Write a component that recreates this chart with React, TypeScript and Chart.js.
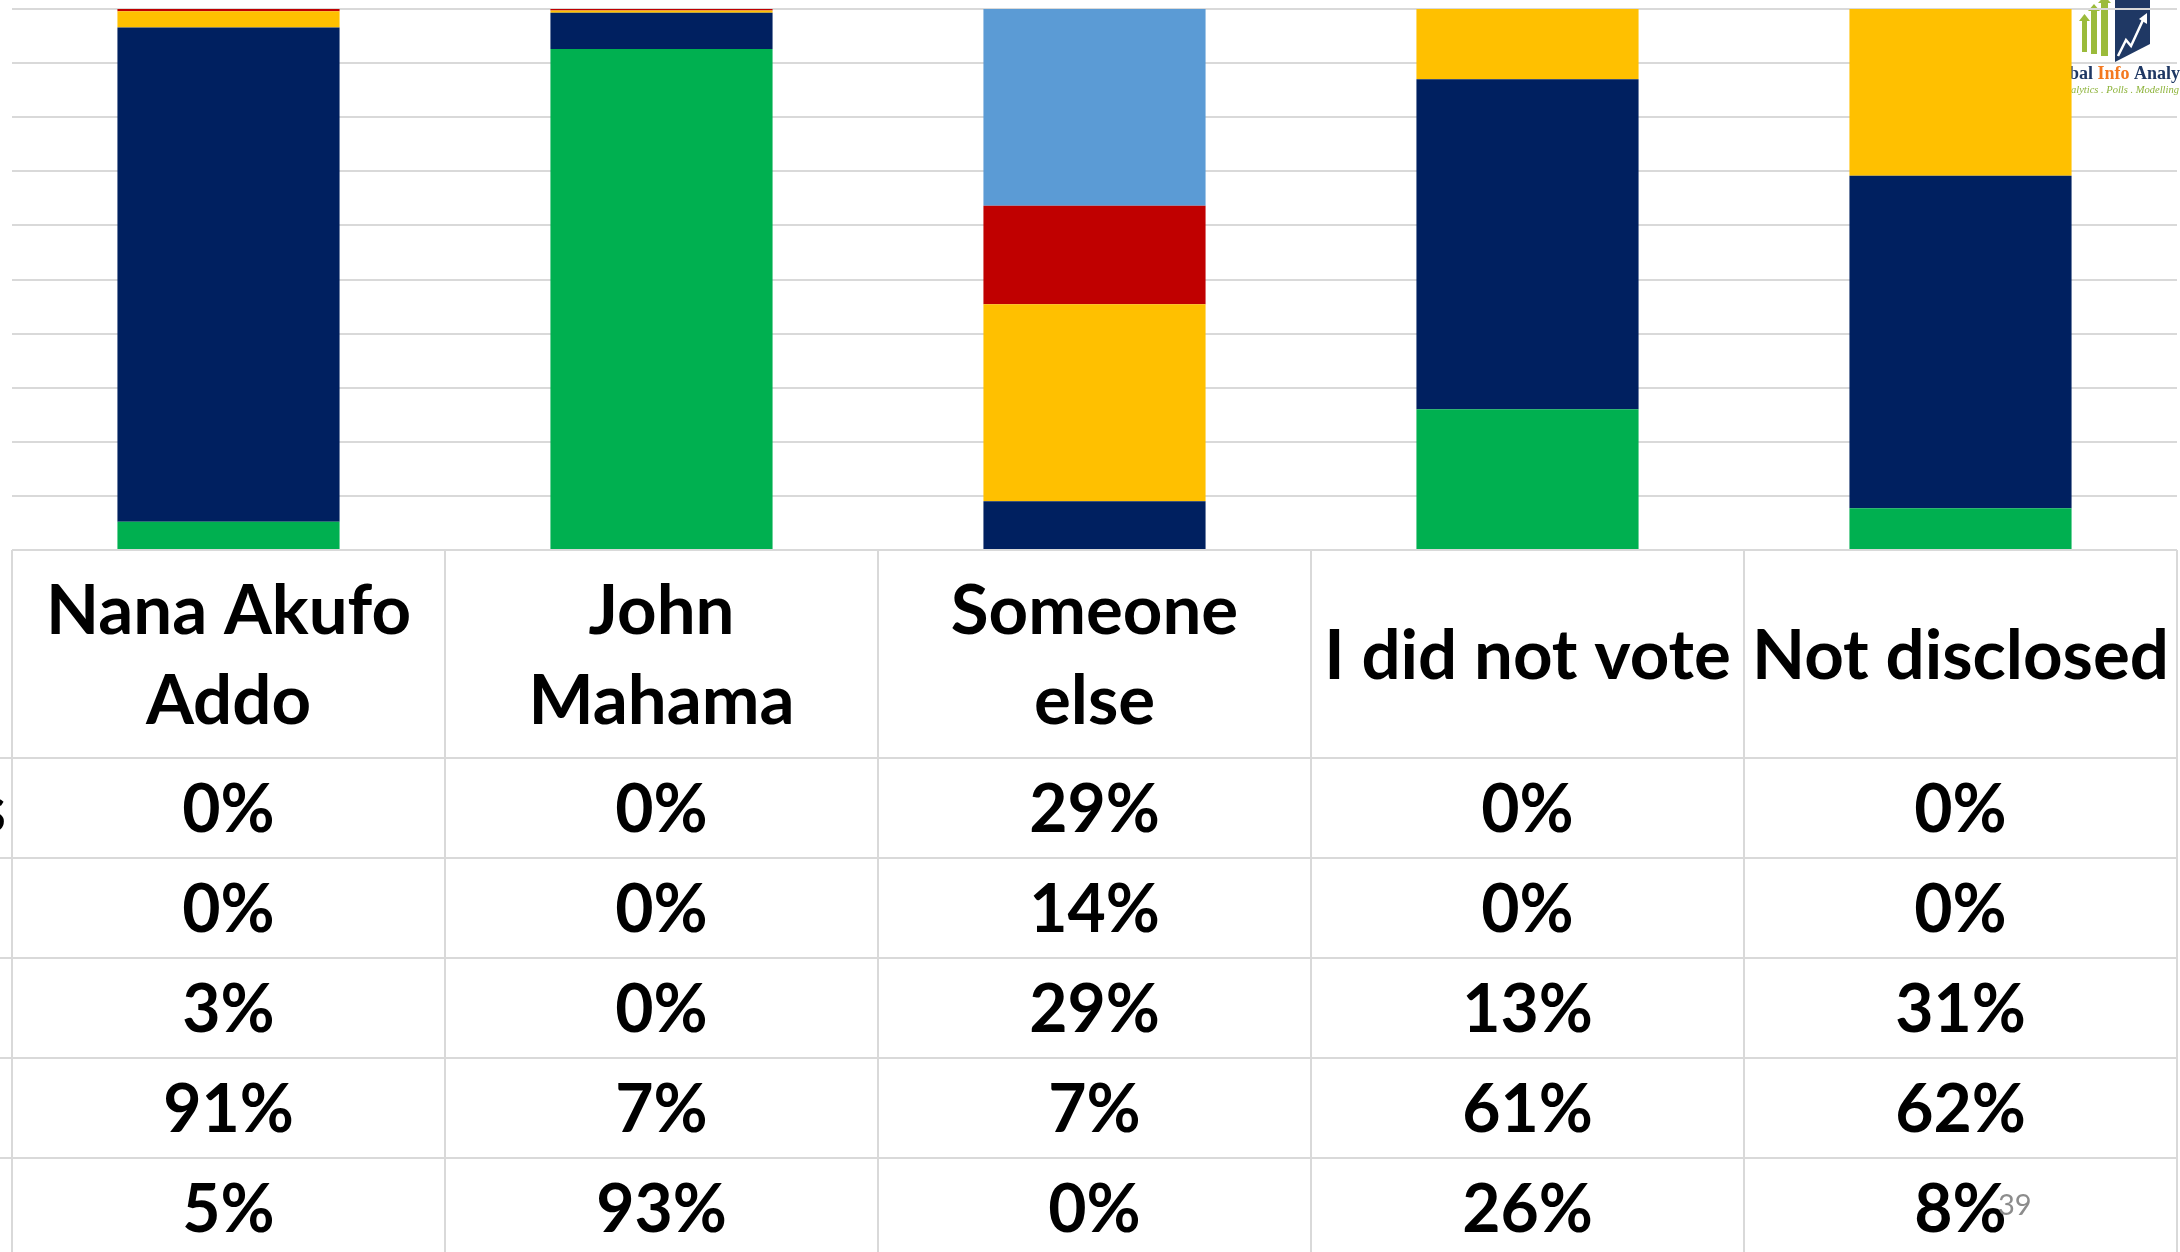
import React, { useEffect, useRef } from "react";
import { Chart, registerables } from "chart.js";

Chart.register(...registerables);

// Categories (column headers of the data table)
const categories: string[][] = [
  ["Nana Akufo", "Addo"],
  ["John", "Mahama"],
  ["Someone", "else"],
  ["I did not vote"],
  ["Not disclosed"],
];

// Series (top row of data table first)
const seriesNames = ["Other candidates", "CPP", "Undecided", "NPP", "NDC"];
const otherValues = [0, 0, 28.6, 0, 0];
const redValues = [0.4, 0.3, 14.3, 0, 0];
const yellowValues = [3.0, 0.4, 28.6, 13, 30.8];
const navyValues = [91.3, 6.7, 7.1, 61, 61.5];
const greenValues = [5.2, 92.6, 0, 26, 7.7];
const seriesColors = ["#5B9BD5", "#C00000", "#FFC000", "#002060", "#00B050"];

const yTicks = [0, 10, 20, 30, 40, 50, 60, 70, 80, 90, 100];
const pageNumber = "39";

const seriesValues = [otherValues, redValues, yellowValues, navyValues, greenValues];
const totals = categories.map((_, i) =>
  seriesValues.reduce((s, arr) => s + arr[i], 0)
);

const FONT = "Lato, 'Open Sans', sans-serif";
const GRID = "#D9D9D9";

function drawLogo(ctx: CanvasRenderingContext2D) {
  ctx.save();
  // green arrows
  ctx.fillStyle = "#9BBB3B";
  const arrows = [
    { x: 2082, w: 5, top: 14, bottom: 52 },
    { x: 2091, w: 6, top: 4, bottom: 54 },
    { x: 2101, w: 7, top: -4, bottom: 56 },
  ];
  arrows.forEach((a) => {
    ctx.fillRect(a.x, a.top + 6, a.w, a.bottom - a.top - 6);
    ctx.beginPath();
    ctx.moveTo(a.x - 3, a.top + 7);
    ctx.lineTo(a.x + a.w / 2, a.top);
    ctx.lineTo(a.x + a.w + 3, a.top + 7);
    ctx.closePath();
    ctx.fill();
  });
  // navy book shape
  ctx.fillStyle = "#1F3864";
  ctx.beginPath();
  ctx.moveTo(2115, 0);
  ctx.lineTo(2150, 0);
  ctx.lineTo(2150, 44);
  ctx.lineTo(2115, 62);
  ctx.closePath();
  ctx.fill();
  // white zigzag arrow
  ctx.strokeStyle = "#FFFFFF";
  ctx.lineWidth = 2.5;
  ctx.beginPath();
  ctx.moveTo(2118, 56);
  ctx.lineTo(2126, 40);
  ctx.lineTo(2131, 46);
  ctx.lineTo(2143, 20);
  ctx.stroke();
  ctx.fillStyle = "#FFFFFF";
  ctx.beginPath();
  ctx.moveTo(2139, 19);
  ctx.lineTo(2147, 13);
  ctx.lineTo(2147, 24);
  ctx.closePath();
  ctx.fill();
  // text
  ctx.textBaseline = "alphabetic";
  ctx.textAlign = "left";
  ctx.font = "bold 18px 'Liberation Serif', serif";
  let x = 2069 - ctx.measureText("Glo").width;
  const parts: [string, string][] = [
    ["Global ", "#1F3864"],
    ["Info ", "#F47920"],
    ["Analytics", "#1F3864"],
  ];
  parts.forEach(([t, c]) => {
    ctx.fillStyle = c;
    ctx.fillText(t, x, 79);
    x += ctx.measureText(t).width;
  });
  ctx.font = "italic 10.5px 'Liberation Serif', serif";
  ctx.fillStyle = "#8DB33A";
  ctx.fillText("Analytics . Polls . Modelling", 2071 - ctx.measureText("An").width, 93);
  ctx.restore();
}

const tablePlugin = {
  id: "dataTable",
  beforeDraw(chart: any) {
    drawLogo(chart.ctx);
  },
  afterDraw(chart: any) {
    const { ctx, chartArea } = chart;
    const n = categories.length;
    const left = chartArea.left;
    const right = chartArea.right;
    const colW = (right - left) / n;
    const top = chartArea.bottom;
    const headerH = 208;
    const rowH = 100;
    const rows = seriesNames.length;
    const bottom = top + headerH + rows * rowH;
    const hfs = 69;
    const fs = 66;

    ctx.save();
    ctx.strokeStyle = GRID;
    ctx.lineWidth = 2;
    ctx.beginPath();
    ctx.moveTo(left, top);
    ctx.lineTo(right, top);
    for (let i = 0; i <= n; i++) {
      const xx = left + i * colW;
      ctx.moveTo(xx, top);
      ctx.lineTo(xx, bottom);
    }
    for (let r = 0; r <= rows; r++) {
      const yy = top + headerH + r * rowH;
      ctx.moveTo(-800, yy);
      ctx.lineTo(right, yy);
    }
    ctx.stroke();

    ctx.fillStyle = "#000000";
    ctx.textBaseline = "alphabetic";
    ctx.textAlign = "center";
    // header
    ctx.font = `bold ${hfs}px ${FONT}`;
    categories.forEach((lines, i) => {
      const cx = left + (i + 0.5) * colW;
      const cy = top + headerH / 2;
      lines.forEach((ln, j) => {
        const y = cy + (j - (lines.length - 1) / 2) * 90 + hfs * 0.36;
        ctx.fillText(ln, cx, y);
      });
    });
    // values
    ctx.font = `bold ${fs}px ${FONT}`;
    seriesValues.forEach((arr, r) => {
      const cy = top + headerH + r * rowH + rowH / 2;
      arr.forEach((v, i) => {
        const cx = left + (i + 0.5) * colW;
        ctx.fillText(Math.round(v) + "%", cx, cy + fs * 0.36);
      });
    });
    // row headers (mostly off-canvas to the left)
    ctx.textAlign = "left";
    const maxW = Math.max(...seriesNames.map((s) => ctx.measureText(s).width));
    const textX = 6 - maxW;
    seriesNames.forEach((s, r) => {
      const cy = top + headerH + r * rowH + rowH / 2;
      ctx.fillStyle = seriesColors[r];
      ctx.fillRect(textX - 40, cy - 12, 24, 24);
      ctx.fillStyle = "#000000";
      ctx.fillText(s, textX, cy + fs * 0.36);
    });
    // page number
    ctx.fillStyle = "#8C8C8C";
    ctx.font = `29px ${FONT}`;
    ctx.fillText(pageNumber, 1998, 1215);
    ctx.restore();
  },
};

export default function App() {
  const canvasRef = useRef<HTMLCanvasElement | null>(null);

  useEffect(() => {
    document.body.style.margin = "0";
    const canvas = canvasRef.current;
    if (!canvas) return;
    // stacking bottom -> top: reverse order of table rows
    const order = [4, 3, 2, 1, 0];
    const datasets = order.map((k) => ({
      label: seriesNames[k],
      data: seriesValues[k].map((v, i) => (v / totals[i]) * 100),
      backgroundColor: seriesColors[k],
      borderWidth: 0,
      barPercentage: 0.513,
      categoryPercentage: 1,
    }));
    const chart = new Chart(canvas, {
      type: "bar",
      data: {
        labels: categories.map((c) => c.join(" ")),
        datasets,
      },
      options: {
        responsive: false,
        animation: false,
        devicePixelRatio: 1,
        layout: { padding: { left: 12, right: 3, top: 9, bottom: 702 } },
        plugins: {
          legend: { display: false },
          tooltip: { enabled: false },
          title: { display: false },
        },
        scales: {
          x: {
            stacked: true,
            display: false,
            offset: true,
          },
          y: {
            stacked: true,
            min: 0,
            max: 100,
            afterBuildTicks: (axis: any) => {
              axis.ticks = yTicks.map((v) => ({ value: v }));
            },
            ticks: { display: false },
            border: { display: false },
            grid: { color: GRID, lineWidth: 2, drawTicks: false },
          },
        },
      },
      plugins: [tablePlugin],
    });
    return () => chart.destroy();
  }, []);

  return (
    <div style={{ position: "fixed", left: 0, top: 0, width: 2180, height: 1252, background: "#FFFFFF" }}>
      <canvas ref={canvasRef} width={2180} height={1252} style={{ display: "block" }} />
    </div>
  );
}
